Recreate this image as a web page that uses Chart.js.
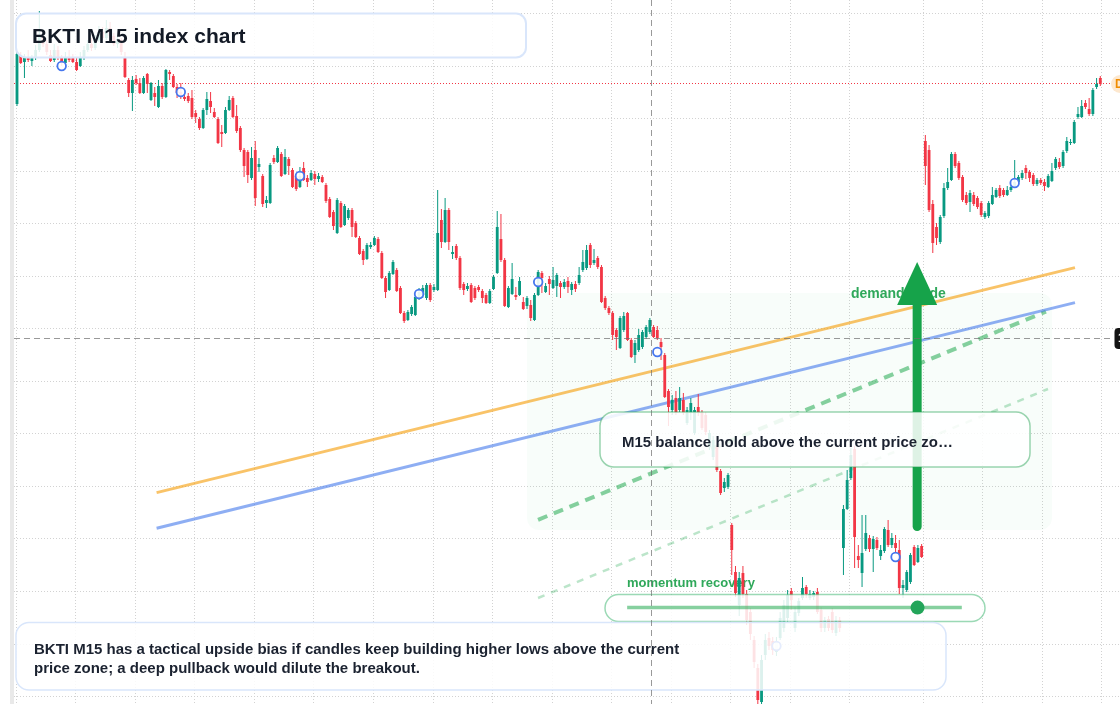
<!DOCTYPE html>
<html>
<head>
<meta charset="utf-8">
<title>BKTI M15 index chart</title>
<script src="https://cdn.jsdelivr.net/npm/chart.js@4.4.1/dist/chart.umd.min.js"></script>
<style>
  html, body { margin: 0; padding: 0; background: #ffffff; }
  #wrap { width: 1120px; height: 704px; }
</style>
</head>
<body>
<div id="wrap"><canvas id="chart" width="1120" height="704"></canvas></div>
<script>
// BKTI M15 candles, oldest first (index = bar number)
const open = [
  194.80, 197.25, 196.90, 197.15, 196.95, 197.10, 197.50, 198.20, 197.80, 197.25,
  197.00, 197.50, 197.10, 196.85, 197.15, 197.10, 196.90, 196.70, 197.10, 197.50,
  197.80, 197.60, 198.00, 198.40, 198.10, 198.60, 198.20, 197.80, 198.00, 197.10,
  196.00, 195.35, 196.05, 195.85, 195.35, 196.30, 195.00, 195.35, 194.65, 195.70,
  195.15, 196.40, 196.20, 195.65, 195.40, 195.15, 195.20, 195.10, 194.35, 194.05,
  193.60, 194.50, 194.95, 194.40, 194.05, 193.40, 193.35, 194.50, 195.10, 194.20,
  193.60, 192.50, 192.40, 191.10, 192.50, 191.65, 191.20, 189.85, 189.85, 192.10,
  191.90, 192.30, 191.30, 192.05, 191.50, 191.20, 190.65, 191.60, 191.10, 191.00,
  191.30, 191.05, 191.15, 190.75, 190.05, 189.40, 188.35, 189.85, 188.75, 189.10,
  189.50, 188.85, 188.10, 187.45, 187.05, 187.65, 187.75, 188.05, 187.35, 186.10,
  185.50, 186.30, 186.50, 185.60, 184.35, 184.00, 184.30, 184.25, 185.10, 185.25,
  185.10, 185.75, 185.50, 185.50, 189.00, 187.90, 189.50, 187.30, 187.70, 187.10,
  185.80, 185.55, 185.75, 185.60, 185.65, 185.45, 185.25, 184.85, 185.55, 186.35,
  188.05, 187.00, 184.65, 185.30, 185.25, 185.25, 184.90, 184.70, 184.75, 184.00,
  185.25, 186.35, 185.40, 186.05, 185.60, 185.70, 185.85, 185.65, 185.95, 185.50,
  185.80, 185.85, 186.50, 186.60, 187.75, 186.85, 187.10, 186.65, 185.10, 184.60,
  184.35, 183.50, 182.60, 183.50, 184.35, 183.00, 182.25, 182.50, 182.65, 183.15,
  183.40, 183.65, 183.50, 182.90, 182.25, 180.45, 179.50, 180.10, 179.50, 180.00,
  178.85, 179.35, 178.35, 179.65, 179.40, 179.25, 177.65, 177.15, 177.65, 176.45,
  175.60, 175.65, 173.75, 171.40, 169.75, 171.35, 170.30, 169.40, 168.00, 166.60,
  164.90, 167.25, 168.10, 167.95, 167.40, 168.10, 168.60, 169.10, 170.45, 168.60,
  169.35, 170.10, 170.65, 170.10, 170.15, 170.40, 169.50, 168.60, 169.05, 169.40,
  168.35, 169.00, 172.60, 174.55, 176.10, 177.55, 172.20, 171.35, 172.55, 173.10,
  172.55, 173.00, 172.20, 172.45, 173.50, 172.75, 172.85, 172.50, 170.60, 170.50,
  170.90, 172.65, 171.90, 172.70, 192.95, 192.50, 189.80, 188.65, 187.90, 189.20,
  190.60, 191.00, 192.30, 191.85, 191.15, 190.25, 189.90, 190.25, 190.10, 189.85,
  189.15, 189.20, 189.80, 190.15, 190.60, 190.50, 190.25, 190.50, 190.70, 190.90,
  191.10, 191.60, 191.40, 191.25, 190.80, 191.00, 190.90, 190.65, 190.95, 191.60,
  191.90, 191.70, 192.45, 192.85, 192.85, 194.15, 194.15, 194.85, 194.55, 194.30,
  195.65, 196.10
];
const high = [
  197.40, 197.40, 197.30, 197.50, 197.25, 197.75, 199.45, 198.50, 198.00, 197.50,
  197.80, 197.70, 197.25, 197.40, 197.50, 197.30, 197.10, 197.40, 197.70, 198.00,
  198.10, 198.25, 198.70, 198.65, 199.00, 198.90, 198.35, 198.20, 198.10, 197.40,
  196.10, 196.20, 196.25, 196.10, 196.20, 196.35, 195.90, 195.65, 196.00, 195.85,
  196.55, 196.50, 196.30, 195.80, 195.85, 195.25, 195.35, 195.50, 194.50, 194.15,
  194.60, 195.40, 195.40, 194.60, 194.15, 193.75, 194.65, 195.20, 195.20, 194.75,
  193.70, 192.60, 192.50, 192.65, 192.95, 192.10, 191.30, 190.20, 191.85, 192.25,
  192.70, 192.40, 192.55, 192.15, 191.60, 191.30, 191.65, 191.90, 191.25, 191.50,
  191.45, 191.35, 191.25, 190.85, 190.15, 189.50, 190.10, 189.95, 189.80, 189.60,
  189.60, 188.95, 188.20, 187.55, 187.85, 187.90, 188.20, 188.15, 187.45, 186.20,
  186.45, 187.00, 186.60, 185.70, 184.45, 184.50, 184.75, 185.25, 185.60, 185.75,
  185.85, 185.85, 185.80, 190.50, 189.55, 190.10, 189.60, 187.70, 187.80, 187.20,
  185.90, 185.85, 185.85, 185.70, 185.75, 185.55, 185.35, 185.55, 186.25, 189.45,
  189.30, 187.10, 185.70, 186.85, 185.65, 186.15, 185.15, 185.20, 185.00, 185.35,
  186.50, 186.45, 185.85, 186.20, 186.65, 186.35, 185.95, 186.05, 186.15, 185.90,
  185.95, 186.65, 187.50, 187.75, 187.85, 187.55, 187.20, 186.75, 185.20, 184.70,
  184.45, 183.60, 184.20, 184.40, 184.40, 183.10, 183.00, 183.55, 183.50, 183.75,
  184.10, 183.75, 183.70, 183.10, 182.35, 180.55, 180.25, 180.45, 180.65, 180.35,
  179.65, 180.10, 179.65, 180.30, 179.50, 179.40, 178.50, 178.20, 177.75, 176.55,
  176.10, 176.35, 173.85, 171.70, 171.40, 171.70, 170.50, 169.60, 168.20, 166.80,
  167.25, 168.30, 168.40, 168.15, 168.15, 169.40, 170.00, 170.50, 170.60, 169.65,
  170.10, 171.15, 170.75, 170.50, 170.45, 170.60, 169.65, 169.15, 169.20, 169.60,
  169.20, 169.15, 174.75, 176.50, 177.60, 177.70, 172.75, 174.25, 174.25, 173.25,
  173.20, 173.15, 172.75, 173.65, 174.00, 173.35, 173.25, 173.00, 171.00, 171.50,
  172.35, 172.75, 172.75, 172.80, 193.25, 192.75, 190.00, 188.85, 189.25, 190.85,
  191.60, 192.40, 192.40, 191.95, 191.25, 190.40, 190.50, 190.40, 190.20, 189.95,
  189.45, 189.95, 190.65, 190.60, 190.75, 190.60, 190.70, 190.90, 192.00, 191.25,
  191.50, 191.75, 191.50, 191.35, 191.10, 191.10, 191.05, 191.30, 191.85, 192.15,
  192.10, 192.50, 193.15, 193.05, 194.00, 194.65, 195.00, 195.00, 195.10, 195.60,
  196.10, 196.20
];
const low = [
  194.70, 196.80, 196.10, 196.90, 196.70, 197.00, 197.40, 197.65, 197.25, 196.90,
  196.90, 197.00, 196.70, 196.75, 196.90, 196.85, 196.45, 196.65, 197.00, 197.40,
  197.45, 197.50, 197.90, 198.00, 198.00, 198.10, 197.70, 197.60, 197.25, 196.10,
  195.15, 194.45, 195.75, 195.30, 195.30, 195.35, 194.95, 194.70, 194.60, 195.05,
  195.10, 196.00, 195.60, 195.10, 195.05, 194.95, 194.85, 194.05, 193.85, 193.50,
  193.55, 194.25, 194.35, 194.10, 192.80, 192.65, 193.30, 194.45, 194.10, 193.35,
  192.40, 191.15, 190.85, 191.00, 189.70, 191.40, 189.65, 189.60, 189.80, 191.80,
  191.85, 191.15, 191.25, 191.25, 190.60, 190.45, 190.60, 190.95, 190.65, 190.95,
  190.75, 190.90, 190.85, 189.85, 189.10, 188.50, 188.30, 188.60, 188.70, 189.00,
  188.15, 188.10, 187.25, 186.75, 187.00, 187.55, 187.70, 187.35, 186.05, 185.10,
  185.45, 186.25, 185.40, 184.30, 183.85, 183.95, 184.20, 184.20, 185.00, 185.10,
  185.00, 184.90, 185.40, 185.45, 187.60, 187.85, 187.50, 187.05, 187.00, 185.50,
  185.25, 185.45, 184.85, 185.00, 185.40, 184.85, 184.80, 184.80, 185.50, 186.30,
  186.90, 184.65, 184.60, 185.25, 185.00, 185.20, 184.50, 184.55, 183.95, 183.95,
  185.20, 185.35, 185.35, 185.25, 185.55, 185.15, 185.10, 185.55, 185.35, 185.25,
  185.40, 185.75, 186.40, 186.50, 186.60, 186.75, 186.55, 184.85, 184.50, 184.25,
  183.00, 182.50, 182.55, 183.40, 182.95, 182.10, 181.85, 182.40, 182.55, 183.05,
  183.30, 183.10, 183.00, 182.00, 180.10, 178.70, 179.25, 179.25, 179.40, 179.25,
  178.75, 179.00, 178.25, 179.20, 178.50, 178.25, 177.50, 177.00, 176.40, 175.25,
  175.40, 175.55, 171.25, 170.15, 169.20, 170.10, 168.75, 168.00, 166.60, 164.80,
  164.80, 167.00, 167.50, 167.25, 167.20, 168.00, 168.40, 168.90, 169.50, 168.40,
  169.20, 170.00, 170.10, 170.00, 170.00, 169.30, 168.40, 168.40, 168.45, 168.35,
  168.20, 168.40, 171.25, 174.50, 176.00, 171.60, 171.60, 170.65, 172.45, 172.40,
  171.40, 172.50, 172.00, 172.35, 172.65, 172.60, 172.40, 170.30, 170.10, 170.40,
  170.80, 171.70, 171.85, 172.10, 190.75, 189.40, 187.35, 187.75, 187.80, 189.10,
  190.50, 190.95, 191.60, 191.00, 189.90, 189.75, 189.40, 189.70, 189.55, 189.15,
  189.05, 189.10, 189.75, 190.10, 190.10, 190.15, 190.20, 190.40, 190.60, 190.80,
  191.00, 191.05, 190.90, 190.70, 190.70, 190.75, 190.45, 190.60, 190.90, 191.50,
  191.55, 191.60, 192.35, 192.75, 192.80, 194.05, 194.10, 194.55, 194.20, 194.20,
  195.55, 195.70
];
const close = [
  197.30, 196.85, 197.15, 197.00, 197.15, 197.50, 198.20, 197.80, 197.40, 196.95,
  197.50, 197.10, 196.85, 197.15, 197.00, 196.90, 196.50, 197.10, 197.50, 197.80,
  197.60, 198.00, 198.40, 198.10, 198.60, 198.20, 197.80, 198.00, 197.40, 196.15,
  195.35, 196.00, 195.85, 195.35, 196.10, 195.80, 195.85, 195.15, 195.70, 195.15,
  196.50, 196.30, 195.65, 195.35, 195.25, 195.05, 194.95, 194.15, 194.15, 193.60,
  194.50, 195.05, 194.65, 194.15, 192.85, 193.30, 194.50, 195.00, 194.15, 193.45,
  192.50, 191.70, 191.25, 192.10, 190.10, 191.80, 189.80, 190.00, 191.75, 191.90,
  192.60, 191.20, 192.15, 191.70, 190.65, 190.55, 191.20, 191.00, 190.90, 191.35,
  191.05, 191.20, 190.90, 189.95, 189.15, 188.70, 190.00, 188.65, 189.70, 189.50,
  188.65, 188.15, 187.30, 187.00, 187.75, 187.75, 188.10, 187.40, 186.10, 185.40,
  186.35, 186.90, 185.45, 184.35, 183.95, 184.40, 184.65, 185.15, 185.40, 185.60,
  185.75, 185.00, 185.65, 188.35, 187.90, 189.50, 187.90, 187.40, 187.10, 185.60,
  185.50, 185.70, 184.90, 185.10, 185.50, 185.10, 184.85, 185.45, 186.15, 188.65,
  187.00, 184.70, 185.60, 186.05, 185.15, 185.95, 184.55, 185.10, 184.10, 185.25,
  186.40, 186.10, 185.70, 185.80, 186.00, 186.25, 185.65, 185.90, 185.65, 185.80,
  185.55, 186.25, 186.90, 187.50, 186.75, 187.00, 186.65, 184.90, 184.60, 184.35,
  183.25, 183.15, 184.10, 184.20, 183.00, 182.15, 182.85, 183.25, 183.40, 183.65,
  184.00, 183.15, 183.10, 182.65, 180.15, 179.65, 180.00, 179.35, 180.10, 179.35,
  179.50, 179.85, 179.50, 179.35, 178.60, 178.40, 178.35, 178.00, 176.50, 175.35,
  175.90, 176.25, 172.50, 170.35, 171.10, 170.30, 169.00, 168.30, 166.90, 165.00,
  167.00, 168.00, 167.70, 167.50, 167.90, 169.10, 169.75, 170.25, 170.00, 169.40,
  169.95, 170.60, 170.30, 170.30, 170.35, 169.40, 168.60, 169.00, 168.60, 168.50,
  169.00, 168.60, 174.55, 176.00, 177.25, 173.15, 172.00, 172.35, 173.35, 172.55,
  173.05, 172.60, 172.50, 173.55, 172.75, 173.10, 172.60, 170.60, 170.75, 171.40,
  172.25, 171.75, 172.60, 172.15, 191.70, 189.50, 187.85, 188.10, 189.15, 190.60,
  190.90, 192.30, 191.70, 191.10, 190.00, 189.85, 190.35, 189.80, 189.65, 189.25,
  189.35, 189.85, 190.25, 190.50, 190.20, 190.25, 190.50, 190.65, 190.90, 191.15,
  191.35, 191.35, 191.10, 190.80, 191.00, 190.85, 190.70, 191.20, 191.45, 192.05,
  191.65, 192.40, 192.95, 192.90, 193.90, 194.30, 194.70, 194.65, 194.30, 195.50,
  195.80, 195.80
];

// session markers (bar index, price)
const markerIndex = [12, 44, 76, 108, 140, 172, 204, 236, 268];
const markerPrice = [196.70, 195.40, 191.20, 185.30, 185.90, 182.40, 167.70, 172.15, 190.85];

// time grid (bar index) and price grid
const timeGrid = [-0.25, 15.75, 31.75, 47.75, 63.75, 79.75, 95.75, 111.75, 127.75, 143.75,
  159.75, 175.75, 191.75, 207.75, 223.75, 243.4, 259.4, 275.4, 291.4];
const priceGrid = [199.3, 196.675, 194.05, 191.425, 188.8, 186.175, 183.55, 180.925,
  178.3, 175.675, 173.05, 170.425, 167.8, 165.175];

// drawings: [bar index, price]
const trendUpper = [[37.5, 175.37], [284.2, 186.62]];
const trendLower = [[37.5, 173.59], [284.2, 184.87]];
const guideUpper = [[139.96, 174.01], [276.4, 184.42]];
const guideLower = [[139.96, 170.10], [276.95, 180.55]];
const demandZone = { from: 137.0, to: 278.0, top: 185.35, bottom: 173.50 };
const demandArrow = { index: 241.8, from: 173.67, to: 186.90 };
const demandLabel = { index: 224.0, price: 185.10 };
const momentumLabel = { index: 163.86, price: 170.63 };
const momentumLevel = { from: 163.9, to: 253.8, price: 169.62, dot: 241.9 };
const crosshair = { index: 170.3, price: 183.10 };

const VIEW_MIN = -0.806;
const VIEW_MAX = 296.29;
const PRICE_MIN = 164.8;
const PRICE_MAX = 200;

const UP = '#089981';
const DOWN = '#f23645';
const GREEN = '#16a34a';
const FONT = '"Liberation Sans", Arial, sans-serif';

const candleColor = close.map((c, i) => (c >= open[i] ? UP : DOWN));
const bodyData = close.map((c, i) => ({ x: i, y: [open[i], c] }));
const wickData = close.map((c, i) => ({ x: i, y: [low[i], high[i]] }));
const toPoints = (seg) => seg.map(p => ({ x: p[0], y: p[1] }));

function roundRect(ctx, x, y, w, h, r) {
    ctx.beginPath();
    ctx.moveTo(x + r, y);
    ctx.arcTo(x + w, y, x + w, y + h, r);
    ctx.arcTo(x + w, y + h, x, y + h, r);
    ctx.arcTo(x, y + h, x, y, r);
    ctx.arcTo(x, y, x + w, y, r);
    ctx.closePath();
}

function panel(ctx, x, y, w, h, r, stroke, lw) {
    roundRect(ctx, x, y, w, h, r);
    ctx.fillStyle = 'rgba(255,255,255,0.86)';
    ctx.fill();
    ctx.lineWidth = lw;
    ctx.strokeStyle = stroke;
    ctx.stroke();
}

const overlays = {
    id: 'overlays',
    beforeDraw(chart) {
        const { ctx, width, height } = chart;
        ctx.save();
        ctx.fillStyle = '#ffffff';
        ctx.fillRect(0, 0, width, height);
        ctx.fillStyle = '#e9e9e9';
        ctx.fillRect(10, 0, 4, height);
        ctx.restore();
    },
    beforeDatasetsDraw(chart) {
        const { ctx, chartArea: area, scales: { x, y } } = chart;
        ctx.save();
        const zl = x.getPixelForValue(demandZone.from);
        const zr = x.getPixelForValue(demandZone.to);
        const zt = y.getPixelForValue(demandZone.top);
        const zb = y.getPixelForValue(demandZone.bottom);
        roundRect(ctx, zl, zt, zr - zl, zb - zt, 12);
        ctx.fillStyle = 'rgba(34,197,94,0.032)';
        ctx.fill();

        // last price line
        const py = Math.round(y.getPixelForValue(close[close.length - 1])) - 0.5;
        ctx.setLineDash([1, 2]);
        ctx.strokeStyle = DOWN;
        ctx.lineWidth = 1;
        ctx.beginPath();
        ctx.moveTo(area.left, py);
        ctx.lineTo(1111, py);
        ctx.stroke();
        ctx.setLineDash([]);

        ctx.fillStyle = '#2fa85a';
        ctx.textBaseline = 'alphabetic';
        ctx.font = 'bold 14px ' + FONT;
        ctx.fillText('demand guide', x.getPixelForValue(demandLabel.index), y.getPixelForValue(demandLabel.price));
        ctx.font = 'bold 13px ' + FONT;
        ctx.fillText('momentum recovery', x.getPixelForValue(momentumLabel.index), y.getPixelForValue(momentumLabel.price));
        ctx.restore();
    },
    afterDatasetsDraw(chart) {
        const { ctx, chartArea: area, scales: { x, y } } = chart;
        ctx.save();

        // arrow
        const ax = x.getPixelForValue(demandArrow.index);
        const tail = y.getPixelForValue(demandArrow.from);
        const tip = y.getPixelForValue(demandArrow.to);
        ctx.strokeStyle = GREEN;
        ctx.fillStyle = GREEN;
        ctx.lineWidth = 9;
        ctx.lineCap = 'round';
        ctx.beginPath();
        ctx.moveTo(ax, tail);
        ctx.lineTo(ax, tip + 40);
        ctx.stroke();
        ctx.beginPath();
        ctx.moveTo(ax, tip);
        ctx.lineTo(ax - 20, tip + 43);
        ctx.lineTo(ax + 20, tip + 43);
        ctx.closePath();
        ctx.fill();
        ctx.lineCap = 'butt';

        // title
        panel(ctx, 16, 13.5, 510, 44, 10, '#d9e6fb', 2);
        ctx.fillStyle = '#131a26';
        ctx.font = 'bold 21px ' + FONT;
        ctx.fillText('BKTI M15 index chart', 32, 43);

        // callout
        panel(ctx, 600, 412, 430, 55, 14, 'rgba(34,160,80,0.45)', 1.5);
        ctx.fillStyle = '#1b2230';
        ctx.font = 'bold 15px ' + FONT;
        ctx.fillText('M15 balance hold above the current price zo\u2026', 622, 447);

        // momentum level
        panel(ctx, 605, 594.5, 380, 27, 13.5, 'rgba(34,170,90,0.45)', 1.5);
        const my = y.getPixelForValue(momentumLevel.price);
        ctx.strokeStyle = 'rgba(34,170,80,0.55)';
        ctx.lineWidth = 3.5;
        ctx.beginPath();
        ctx.moveTo(x.getPixelForValue(momentumLevel.from), my);
        ctx.lineTo(x.getPixelForValue(momentumLevel.to), my);
        ctx.stroke();
        ctx.fillStyle = '#23a55a';
        ctx.beginPath();
        ctx.arc(x.getPixelForValue(momentumLevel.dot), my, 7, 0, Math.PI * 2);
        ctx.fill();

        // note
        panel(ctx, 16, 622.5, 930, 67.5, 13, '#d9e6fb', 1.5);
        ctx.fillStyle = '#1b2230';
        ctx.font = 'bold 15px ' + FONT;
        ctx.fillText('BKTI M15 has a tactical upside bias if candles keep building higher lows above the current', 34, 654);
        ctx.fillText('price zone; a deep pullback would dilute the breakout.', 34, 673);

        // crosshair
        const cx = Math.round(x.getPixelForValue(crosshair.index)) + 0.5;
        const cy = Math.round(y.getPixelForValue(crosshair.price)) + 0.5;
        ctx.strokeStyle = 'rgba(110,110,110,0.7)';
        ctx.lineWidth = 1;
        ctx.setLineDash([6, 4]);
        ctx.beginPath();
        ctx.moveTo(cx, area.top);
        ctx.lineTo(cx, area.bottom);
        ctx.moveTo(area.left, cy);
        ctx.lineTo(1114, cy);
        ctx.stroke();
        ctx.setLineDash([]);

        // clipped price tags at the right edge
        const py = y.getPixelForValue(close[close.length - 1]);
        roundRect(ctx, 1111, py - 9, 40, 18, 9);
        ctx.fillStyle = '#fde8cf';
        ctx.fill();
        ctx.fillStyle = '#f08c00';
        ctx.font = 'bold 12px ' + FONT;
        ctx.textBaseline = 'middle';
        ctx.fillText('D', 1115, py + 0.5);
        roundRect(ctx, 1114.5, cy - 10.5, 40, 21, 4);
        ctx.fillStyle = '#131313';
        ctx.fill();
        ctx.fillStyle = '#ffffff';
        ctx.fillText(crosshair.price.toFixed(2), 1118, cy);
        ctx.restore();
    }
};

const gridOpts = { color: '#d2d2d2', lineWidth: 1, drawTicks: false, offset: false };

new Chart(document.getElementById('chart'), {
    type: 'bar',
    data: {
        datasets: [
            {
                type: 'line',
                label: 'markers',
                data: markerIndex.map((v, k) => ({ x: v, y: markerPrice[k] })),
                showLine: false,
                pointRadius: 4.3,
                pointBorderWidth: 1.8,
                pointBorderColor: '#4677ee',
                pointBackgroundColor: 'rgba(255,255,255,0.9)',
                order: 0,
            },
            {
                label: 'body',
                data: bodyData,
                backgroundColor: candleColor,
                grouped: false,
                barPercentage: 0.76,
                categoryPercentage: 1,
                minBarLength: 1,
                order: 1,
            },
            {
                label: 'wick',
                data: wickData,
                backgroundColor: candleColor,
                grouped: false,
                maxBarThickness: 1,
                order: 2,
            },
            {
                type: 'line', label: 'upper trend', data: toPoints(trendUpper),
                borderColor: 'rgba(245,158,11,0.62)', borderWidth: 3, pointRadius: 0, order: 6,
            },
            {
                type: 'line', label: 'lower trend', data: toPoints(trendLower),
                borderColor: 'rgba(66,120,235,0.6)', borderWidth: 3, pointRadius: 0, order: 6,
            },
            {
                type: 'line', label: 'guide upper', data: toPoints(guideUpper),
                borderColor: 'rgba(34,170,80,0.55)', borderWidth: 4, borderDash: [10, 7], pointRadius: 0, order: 7,
            },
            {
                type: 'line', label: 'guide lower', data: toPoints(guideLower),
                borderColor: 'rgba(34,170,80,0.3)', borderWidth: 2.5, borderDash: [7, 7], pointRadius: 0, order: 7,
            },
        ],
    },
    options: {
        responsive: false,
        animation: false,
        devicePixelRatio: 1,
        events: [],
        layout: { autoPadding: false, padding: { left: 14, right: 0, top: 0, bottom: 0 } },
        plugins: {
            legend: { display: false },
            tooltip: { enabled: false },
        },
        scales: {
            x: {
                type: 'linear',
                min: VIEW_MIN,
                max: VIEW_MAX,
                offset: false,
                ticks: { display: false },
                grid: gridOpts,
                border: { display: false, dash: [1, 2] },
                afterBuildTicks: (scale) => { scale.ticks = timeGrid.map(v => ({ value: v })); },
            },
            y: {
                type: 'linear',
                min: PRICE_MIN,
                max: PRICE_MAX,
                beginAtZero: false,
                ticks: { display: false },
                grid: gridOpts,
                border: { display: false, dash: [1, 2] },
                afterBuildTicks: (scale) => { scale.ticks = priceGrid.map(v => ({ value: v })); },
            },
        },
    },
    plugins: [overlays],
});
</script>
</body>
</html>
